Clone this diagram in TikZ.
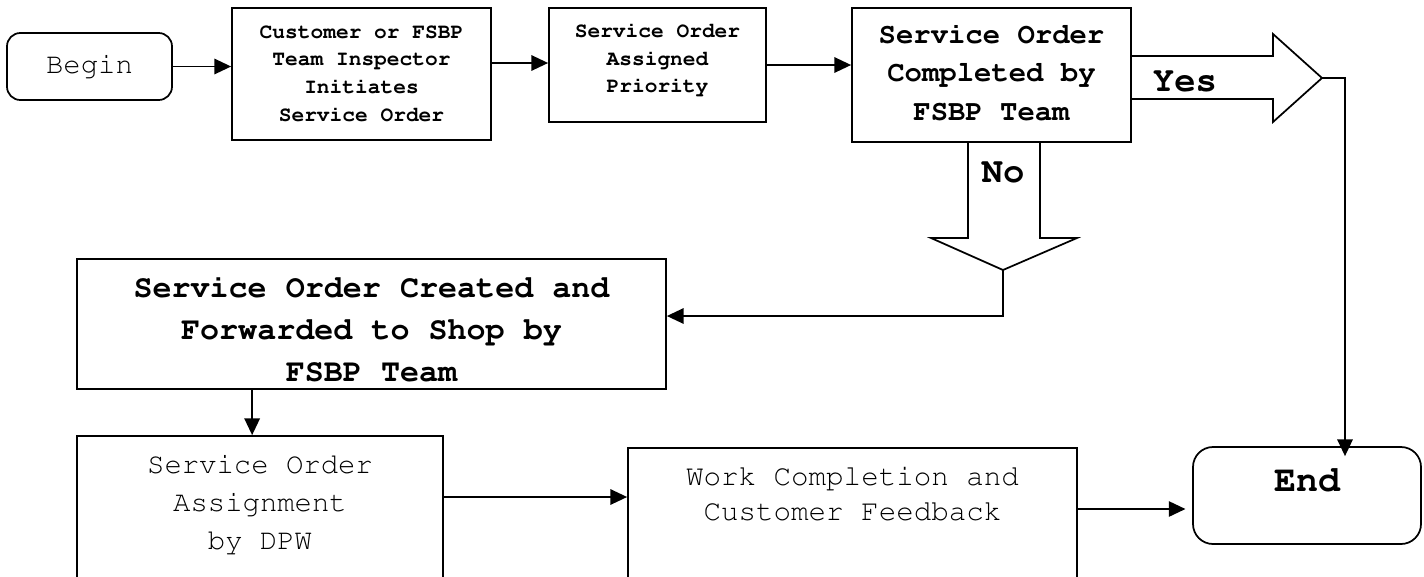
\documentclass[tikz,border=0pt]{standalone}
\usepackage[T1]{fontenc}
\usepackage{courier}
\renewcommand{\familydefault}{\ttdefault}
\usetikzlibrary{arrows.meta,calc}
\tikzset{
  box/.style={draw, line width=1.3pt, inner sep=0pt},
  ln/.style={line width=1.3pt},
  arr/.style={ln, -{Triangle[length=12.5pt,width=11.5pt]}},
  small/.style={align=center, font=\fontsize{15.9}{20.8}\selectfont\bfseries},
  midb/.style={align=center, font=\fontsize{21.7}{28.9}\selectfont\bfseries},
  midr/.style={align=center, font=\fontsize{21.7}{28.5}\selectfont},
  midr2/.style={align=center, font=\fontsize{21.9}{26.3}\selectfont},
  bigb/.style={align=center, font=\fontsize{23.8}{31.5}\selectfont\bfseries},
  lab/.style={font=\fontsize{26.7}{30}\selectfont\bfseries},
}
\begin{document}
\begin{tikzpicture}[x=0.75pt,y=-0.75pt]
\useasboundingbox (0,0) rectangle (1424,576);
\clip (0,0) rectangle (1424,576);

% boxes
\node[box, rounded corners=10pt, minimum width=123.75pt, minimum height=50.25pt] (begin) at (89.5,66.5) {};
\node[midr] (begint) at (89.5,66) {Begin};

\node[box, minimum width=194.25pt, minimum height=99pt] (box2) at (361.5,74) {};
\node[small] (box2t) at (361.5,73.5) {Customer or FSBP\\Team Inspector\\Initiates\\Service Order};

\node[box, minimum width=162.75pt, minimum height=85.5pt] (box3) at (657.5,65) {};
\node[small] (box3t) at (657.5,59.5) {Service Order\\Assigned\\Priority};

\node[box, minimum width=209.25pt, minimum height=100.5pt] (box4) at (991.5,75) {};
\node[midb] (box4t) at (991.5,72.5) {Service Order\\Completed by\\FSBP Team};

\node[box, minimum width=441.75pt, minimum height=97.5pt] (box5) at (371.5,324) {};
\node[bigb] (box5t) at (371.5,329.5) {Service Order Created and\\Forwarded to Shop by\\FSBP Team};

\node[box, minimum width=274.5pt, minimum height=123pt] (box6) at (260,518) {};
\node[midr] (box6t) at (260,504) {Service Order\\Assignment\\by DPW};

\node[box, minimum width=336.75pt, minimum height=114pt] (box7) at (852.5,524) {};
\node[midr2] (box7t) at (852.5,494) {Work Completion and\\Customer Feedback};

\node[box, rounded corners=15pt, minimum width=171pt, minimum height=72.75pt] (end) at (1307,495.5) {};
\node[lab, font=\fontsize{27.5}{30}\selectfont\bfseries] (endt) at (1307,480) {End};

% helper coordinates
\coordinate (r1) at (0,63);
\coordinate (r2) at (0,497);
\coordinate (r3) at (0,509);
\coordinate (ya) at (0,56);
\coordinate (yb) at (0,99);
\coordinate (na) at (968,0);
\coordinate (nb) at (1040,0);
\coordinate (ytip) at (1322,78);
\coordinate (ntip) at (1003,270);

% plain connectors
\draw[arr] (begin.east) -- (box2.west |- begin.east);
\draw[arr] (box2.east |- r1) -- (box3.west |- r1);
\draw[arr] (box3.east) -- (box3.east -| box4.west);
\draw[arr] ($(box5.south west)+(176,0)$) -- ($(box6.north west)+(176,0)$);
\draw[arr] (box6.east |- r2) -- (box7.west |- r2);
\draw[arr, shorten >=5pt] (box7.east |- r3) -- (end.west |- r3);

% Yes block arrow
\draw[ln, line join=miter] (box4.east |- ya) -- (1273,56) -- (1273,34) -- (ytip) -- (1273,122) -- (1273,99) -- (box4.east |- yb);
\node[lab] (yes) at (1185,82) {Yes};
\draw[arr] (ytip) -| ($(end.north)+(38,10)$);

% No block arrow
\draw[ln, line join=miter] (na |- box4.south) -- (968,238) -- (931,238) -- (ntip) -- (1077,238) -- (1040,238) -- (nb |- box4.south);
\node[lab] (no) at (1003,173) {No};
\draw[arr] (ntip) |- ($(box5.east)+(0,-8)$);
\end{tikzpicture}
\end{document}
